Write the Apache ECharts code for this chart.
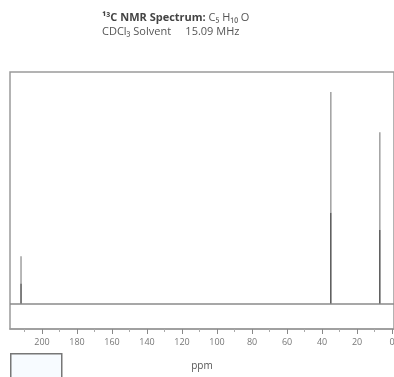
<!DOCTYPE html>
<html>
<head>
<meta charset="utf-8">
<script src="https://cdn.jsdelivr.net/npm/echarts@6/dist/echarts.min.js"></script>
<style>
  html, body { margin: 0; padding: 0; background: #fff; }
  #chart { width: 394px; height: 377px; }
</style>
</head>
<body>
<div id="chart"></div>
<script>
// peak positions (ppm) and relative intensities
const peakShifts = [212, 35, 7]
const peakHeights = [22.5, 100, 81]
const majorTicks = [0, 20, 40, 60, 80, 100, 120, 140, 160, 180, 200]
const minorTicks = [10, 30, 50, 70, 90, 110, 130, 150, 170, 190, 210]

const chart = echarts.init(document.getElementById('chart'), null, { renderer: 'canvas' })

const peaks = peakShifts.map((x, i) => [x, peakHeights[i]])

const option = {
  animation: false,
  title: {
    left: 102,
    top: 11,
    padding: 0,
    text: '{b|¹³C NMR Spectrum:} C₅ H₁₀ O\nCDCl₃ Solvent     15.09 MHz',
    textStyle: {
      fontFamily: 'Open Sans',
      fontSize: 11,
      fontWeight: 'normal',
      color: '#555',
      lineHeight: 14,
      rich: {
        b: { fontFamily: 'Open Sans', fontSize: 11, fontWeight: 'bold', color: '#444', lineHeight: 14 }
      }
    }
  },
  grid: {
    left: 10,
    right: 0,
    top: 72,
    bottom: 48,
    outerBoundsMode: 'none',
    show: true,
    borderColor: '#9a9a9a',
    borderWidth: 1.5,
    backgroundColor: '#fff'
  },
  xAxis: [{
    type: 'value',
    inverse: true,
    min: -1.1,
    max: 218.3,
    name: 'ppm',
    nameLocation: 'middle',
    nameGap: 32,
    nameTextStyle: { fontFamily: 'Open Sans', fontSize: 10, color: '#555' },
    axisLine: { onZero: false, lineStyle: { color: '#9a9a9a', width: 1.5 } },
    splitLine: { show: false },
    axisTick: { show: true, length: 5, customValues: majorTicks, lineStyle: { color: '#888' } },
    axisLabel: {
      customValues: majorTicks,
      fontFamily: 'Open Sans', fontSize: 9, color: '#777', margin: 9
    }
  }, {
    type: 'value',
    inverse: true,
    position: 'bottom',
    min: -1.1,
    max: 218.3,
    axisLine: { show: false, onZero: false },
    splitLine: { show: false },
    axisTick: { show: true, length: 3, customValues: minorTicks, lineStyle: { color: '#aaa' } },
    axisLabel: { show: false }
  }],
  yAxis: {
    type: 'value',
    min: -11.8,
    max: 109.4,
    show: false,
    splitLine: { show: false }
  },
  graphic: [{
    type: 'rect',
    left: 10,
    top: 353,
    shape: { width: 51, height: 30 },
    style: { fill: '#f7fbff', stroke: '#777', lineWidth: 1.5 }
  }],
  series: [{
    type: 'custom',
    renderItem: function (params, api) {
      const base = api.coord([api.value(0), 0])
      const top = api.coord([api.value(0), api.value(1)])
      const mid = base[1] + (top[1] - base[1]) * 0.43
      return {
        type: 'group',
        children: [{
          type: 'line',
          shape: { x1: top[0], y1: top[1], x2: top[0], y2: mid },
          style: { stroke: '#a0a0a0', lineWidth: 1.5 }
        }, {
          type: 'line',
          shape: { x1: base[0], y1: mid, x2: base[0], y2: base[1] },
          style: { stroke: '#555', lineWidth: 1.5 }
        }]
      }
    },
    data: peaks,
    markLine: {
      silent: true,
      symbol: 'none',
      label: { show: false },
      lineStyle: { color: '#8a8a8a', width: 1.5, type: 'solid' },
      data: [{ yAxis: 0 }]
    }
  }]
}

chart.setOption(option)
</script>
</body>
</html>
